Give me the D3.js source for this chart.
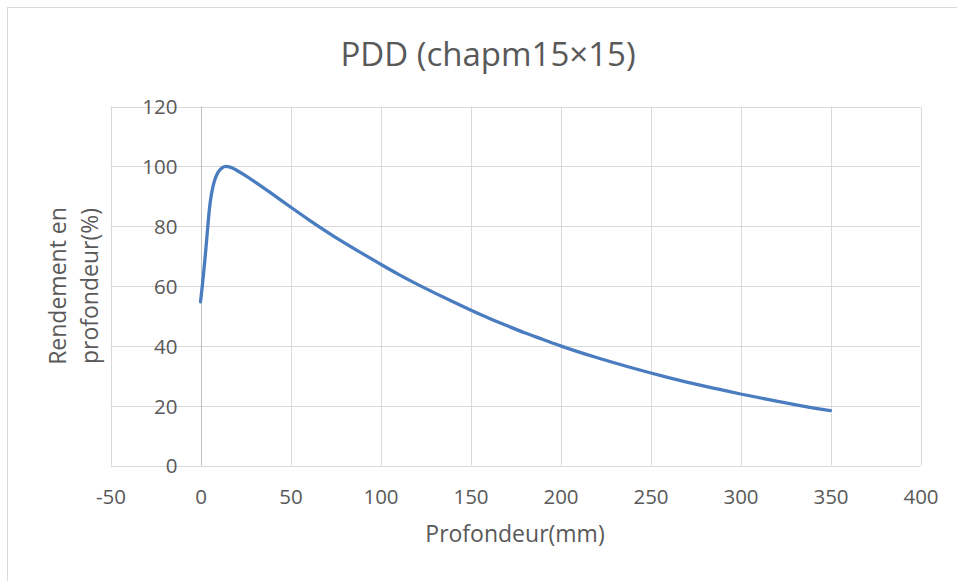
<!DOCTYPE html>
<html><head><meta charset="utf-8">
<script src="https://cdn.jsdelivr.net/npm/d3@7"></script>
<style>
html,body{margin:0;padding:0;background:#fff;}
text{font-family:"Open Sans",sans-serif;fill:#595959;}
</style></head>
<body>
<svg id="chart" width="957" height="581"></svg>
<script>
const depth = [0,1,2,3,4,5,6,7,8,9,10,12,14,16,18,20,25,30,40,50,60,70,80,90,100,110,120,130,140,150,160,170,180,190,200,220,240,260,280,300,320,340,350];
const dose  = [54.7,60,66,72.5,79.5,86,90.4,93.4,95.6,97.1,98.2,99.5,100,99.85,99.35,98.7,96.9,94.9,90.7,86.4,82.2,78.2,74.4,70.8,67.3,63.9,60.7,57.7,54.8,52.0,49.3,46.8,44.4,42.2,40.0,36.1,32.6,29.4,26.5,23.9,21.5,19.3,18.35];
const xTicks = [-50,0,50,100,150,200,250,300,350,400];
const yTicks = [0,20,40,60,80,100,120];
const title = "PDD (chapm15\u00D715)";
const xTitle = "Profondeur(mm)";
const yTitleLines = ["Rendement en","profondeur(%)"];

const svg = d3.select("#chart");
// chart frame
svg.append("rect").attr("x",7.5).attr("y",7.5).attr("width",1000).attr("height",1000)
  .attr("fill","#fff").attr("stroke","#d9d9d9").attr("stroke-width",1);

const x = d3.scaleLinear().domain([-50,400]).range([110.5,920.5]);
const y = d3.scaleLinear().domain([0,120]).range([465.5,106.5]);

// gridlines
svg.append("g").selectAll("line").data(yTicks).join("line")
  .attr("x1",x(-50)).attr("x2",x(400)).attr("y1",d=>Math.round(y(d))+0.5).attr("y2",d=>Math.round(y(d))+0.5)
  .attr("stroke","#d9d9d9").attr("stroke-width",1);
svg.append("g").selectAll("line").data(xTicks).join("line")
  .attr("y1",y(0)).attr("y2",y(120)).attr("x1",d=>Math.round(x(d))+0.5).attr("x2",d=>Math.round(x(d))+0.5)
  .attr("stroke",d=>d===0?"#bfbfbf":"#d9d9d9").attr("stroke-width",1);

// tick labels
const fmt = d=>String(d);
const xAxis = d3.axisBottom(x).tickValues(xTicks).tickFormat(fmt).tickSize(0).tickPadding(0);
const gx = svg.append("g").attr("transform",`translate(0,${y(0)})`).call(xAxis);
gx.select(".domain").remove();
gx.selectAll("text").attr("y",38.5).attr("dy",0).style("font-size","20.5px").style("font-family","'Open Sans',sans-serif").attr("fill","#595959");

const yAxis = d3.axisLeft(y).tickValues(yTicks).tickFormat(fmt).tickSize(0).tickPadding(0);
const gy = svg.append("g").attr("transform",`translate(${x(0)-23},0)`).call(yAxis);
gy.select(".domain").remove();
gy.selectAll("text").attr("x",0).attr("dy","0.36em").style("font-size","20.5px").style("font-family","'Open Sans',sans-serif").attr("fill","#595959");

// line
const line = d3.line().x((d,i)=>x(depth[i])).y(d=>y(d)).curve(d3.curveMonotoneX);
svg.append("path").datum(dose).attr("d",line).attr("fill","none")
  .attr("stroke","#4a7cc0").attr("stroke-width",3.3).attr("stroke-linecap","round").attr("stroke-linejoin","round");

// titles
svg.append("text").attr("x",488).attr("y",66).attr("text-anchor","middle")
  .style("font-size","33px").text(title);
svg.append("text").attr("x",515).attr("y",542).attr("text-anchor","middle")
  .style("font-size","23px").text(xTitle);
const yt = svg.append("text").attr("transform","translate(0,286) rotate(-90)").attr("text-anchor","middle")
  .style("font-size","23px");
yt.append("tspan").attr("x",0).attr("y",66).text(yTitleLines[0]);
yt.append("tspan").attr("x",0).attr("y",98).text(yTitleLines[1]);
</script>
</body></html>
